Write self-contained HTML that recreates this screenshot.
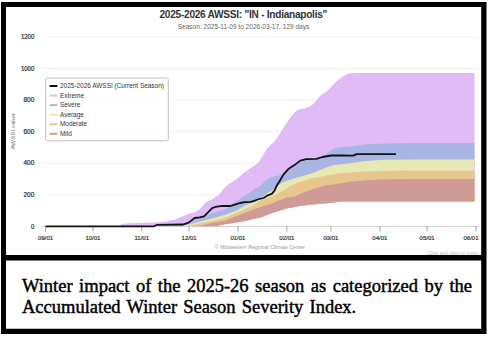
<!DOCTYPE html>
<html><head><meta charset="utf-8"><style>
html,body{margin:0;padding:0;background:#fff;}
body{width:489px;height:339px;position:relative;overflow:hidden;}
svg{position:absolute;left:0;top:0;}
.yl{font-family:"Liberation Sans",sans-serif;font-size:6.3px;fill:#333;stroke:#333;stroke-width:0.22px;}
.xl{font-family:"Liberation Sans",sans-serif;font-size:6.0px;fill:#333;stroke:#333;stroke-width:0.2px;}
.lg{font-family:"Liberation Sans",sans-serif;font-size:6.45px;fill:#333;}
.cap{position:absolute;left:22px;font-family:"Liberation Serif",serif;font-size:18.5px;color:#000;white-space:pre;line-height:21px;-webkit-text-stroke:0.45px #000;}
</style></head><body>
<svg width="489" height="339" viewBox="0 0 489 339">
<rect x="0" y="0" width="489" height="339" fill="#fff"/>
<line x1="41.5" y1="194.88" x2="478.5" y2="194.88" stroke="#ececec" stroke-width="0.8"/><line x1="41.5" y1="163.27" x2="478.5" y2="163.27" stroke="#ececec" stroke-width="0.8"/><line x1="41.5" y1="131.65" x2="478.5" y2="131.65" stroke="#ececec" stroke-width="0.8"/><line x1="41.5" y1="100.03" x2="478.5" y2="100.03" stroke="#ececec" stroke-width="0.8"/><line x1="41.5" y1="68.42" x2="478.5" y2="68.42" stroke="#ececec" stroke-width="0.8"/><line x1="41.5" y1="36.80" x2="478.5" y2="36.80" stroke="#ececec" stroke-width="0.8"/>
<polygon points="120,226.5 121,224.4 125,223.6 145,222.8 155,222.4 160,222 165,221.7 170,220.6 175,219.6 180,217.6 185,215.3 189,213.5 195,212.2 199.6,209.3 204.5,203.6 208,201.3 212,199.5 215.6,197 219,195 223,189.5 227,185.4 232.2,182 237.5,178.6 242.9,173.5 250,168.8 258.3,162.7 262,157 266.5,149.3 274.8,141 279,135 283,128.6 291.3,116.2 296.5,110.5 299.4,109.2 305.3,108.2 310,106.5 314.2,103.3 320.1,96 327.4,91 336.3,81.6 342.2,77 345,75.3 349,73.6 355.8,72.9 474.5,72.9 474.5,201.6 341,201.5 329.5,202.9 315.2,204.3 300.9,205.7 286.6,208.6 272.3,212.9 260.8,217.2 245,221 234.5,222.8 222.7,224.5 215,226.5 120,226.5" fill="#e0bbf6"/>
<polygon points="175,226.5 189.8,223.2 198.4,218.9 208.2,214.6 216.8,211.6 224.5,210 228,207.5 235,202 241.5,198 250,192.5 255,188.5 260,186.2 264.7,181.5 269.4,178 274.2,176.2 278.9,175.6 283.6,173.3 288.3,170.3 293,166.8 300,162 306,160 316,159.5 322,157.5 329.8,151 335.7,148.1 341,147.2 350,146.4 366.5,144.3 384.2,143.4 420,143 474.5,143 474.5,201.6 341,201.5 329.5,202.9 315.2,204.3 300.9,205.7 286.6,208.6 272.3,212.9 260.8,217.2 245,221 234.5,222.8 222.7,224.5 215,226.5 120,226.5" fill="#a9b5e5"/>
<polygon points="180,226.5 198.4,222 213.1,218.2 225.4,214.8 237.7,210 245,205.6 254,202 260,198.5 264.7,195 269.4,192 274.2,189 278.9,184.5 283.6,182.1 290,179.8 297.4,177.6 304.7,175.4 312.1,173.2 319.5,170.2 326.9,167.3 334.2,165.1 340,164.5 366.5,161.1 384,159.8 420,159.5 474.5,159.5 474.5,201.6 341,201.5 329.5,202.9 315.2,204.3 300.9,205.7 286.6,208.6 272.3,212.9 260.8,217.2 245,221 234.5,222.8 222.7,224.5 215,226.5 120,226.5" fill="#e6e9b3"/>
<polygon points="185,226.5 198.4,223.8 213.1,220.8 225.4,217.8 235,213.5 245,209.2 254,205 260,200.8 264.7,198.8 274.2,195.6 283.6,190.5 290,186 297.4,183 304.7,180.6 312.1,178.3 319.5,176.9 326.9,175.4 334.2,173.9 340,173.2 366,171.5 400,170.6 474.5,170.8 474.5,201.6 341,201.5 329.5,202.9 315.2,204.3 300.9,205.7 286.6,208.6 272.3,212.9 260.8,217.2 245,221 234.5,222.8 222.7,224.5 215,226.5 120,226.5" fill="#e7c78e"/>
<polygon points="196,226.5 213,222.8 225,220.8 235,216.5 245,212.7 258,208 273,203.1 286.6,197.5 295,196.5 300.9,193.5 315,188.5 324,185.7 334.2,184.2 340,183.5 350,181.7 366,180.3 384,179.2 474.5,179.1 474.5,201.6 341,201.5 329.5,202.9 315.2,204.3 300.9,205.7 286.6,208.6 272.3,212.9 260.8,217.2 245,221 234.5,222.8 222.7,224.5 215,226.5 120,226.5" fill="#d09a97"/>
<line x1="41.5" y1="226.6" x2="478.5" y2="226.6" stroke="#cccccc" stroke-width="1"/>
<line x1="45.60" y1="226.5" x2="45.60" y2="231.5" stroke="#8a8a8a" stroke-width="0.8"/><text x="45.60" y="240" text-anchor="middle" class="xl">09/01</text><line x1="92.90" y1="226.5" x2="92.90" y2="231.5" stroke="#8a8a8a" stroke-width="0.8"/><text x="92.90" y="240" text-anchor="middle" class="xl">10/01</text><line x1="141.77" y1="226.5" x2="141.77" y2="231.5" stroke="#8a8a8a" stroke-width="0.8"/><text x="141.77" y="240" text-anchor="middle" class="xl">11/01</text><line x1="189.07" y1="226.5" x2="189.07" y2="231.5" stroke="#8a8a8a" stroke-width="0.8"/><text x="189.07" y="240" text-anchor="middle" class="xl">12/01</text><line x1="237.94" y1="226.5" x2="237.94" y2="231.5" stroke="#8a8a8a" stroke-width="0.8"/><text x="237.94" y="240" text-anchor="middle" class="xl">01/01</text><line x1="286.81" y1="226.5" x2="286.81" y2="231.5" stroke="#8a8a8a" stroke-width="0.8"/><text x="286.81" y="240" text-anchor="middle" class="xl">02/01</text><line x1="330.96" y1="226.5" x2="330.96" y2="231.5" stroke="#8a8a8a" stroke-width="0.8"/><text x="330.96" y="240" text-anchor="middle" class="xl">03/01</text><line x1="379.83" y1="226.5" x2="379.83" y2="231.5" stroke="#8a8a8a" stroke-width="0.8"/><text x="379.83" y="240" text-anchor="middle" class="xl">04/01</text><line x1="427.13" y1="226.5" x2="427.13" y2="231.5" stroke="#8a8a8a" stroke-width="0.8"/><text x="427.13" y="240" text-anchor="middle" class="xl">05/01</text><line x1="476.00" y1="226.5" x2="476.00" y2="231.5" stroke="#8a8a8a" stroke-width="0.8"/><text x="478.5" y="240" text-anchor="end" class="xl">06/01</text>
<polyline points="45.6,226.3 154,226.3 157,224.8 183,224.5 185,223.8 188.6,222.6 194.7,218 199.6,217.3 204,216.3 208.2,212.2 212.5,207.8 216.8,206.7 222.9,205.8 230.3,206 234,204.8 240,203 244.6,202.2 250.6,201.9 254.2,200.8 257.7,199.5 263.5,198 268.3,195.1 271.8,193.9 274.7,190.4 276.5,186.2 280.1,180.3 283.6,174.4 288.3,169.1 294.4,165.1 300.3,160.6 306.2,159.2 316.5,158.9 322.4,157 331.3,155.5 340,155.5 353.3,155.6 356.6,154.2 396,154.2" fill="none" stroke="#111" stroke-width="1.8" stroke-linejoin="round"/>
<text x="34.3" y="228.70" text-anchor="end" class="yl" textLength="3.4" lengthAdjust="spacingAndGlyphs">0</text><text x="34.3" y="197.08" text-anchor="end" class="yl" textLength="10.8" lengthAdjust="spacingAndGlyphs">200</text><text x="34.3" y="165.47" text-anchor="end" class="yl" textLength="10.8" lengthAdjust="spacingAndGlyphs">400</text><text x="34.3" y="133.85" text-anchor="end" class="yl" textLength="10.8" lengthAdjust="spacingAndGlyphs">600</text><text x="34.3" y="102.23" text-anchor="end" class="yl" textLength="10.8" lengthAdjust="spacingAndGlyphs">800</text><text x="34.3" y="70.62" text-anchor="end" class="yl" textLength="13.4" lengthAdjust="spacingAndGlyphs">1000</text><text x="34.3" y="39.00" text-anchor="end" class="yl" textLength="13.4" lengthAdjust="spacingAndGlyphs">1200</text>
<text x="243.3" y="17.7" text-anchor="middle" font-family="Liberation Sans" font-weight="bold" font-size="10.1" letter-spacing="-0.26" fill="#333">2025-2026 AWSSI: "IN - Indianapolis"</text>
<text x="243.5" y="28.5" text-anchor="middle" font-family="Liberation Sans" font-size="6.55" fill="#666">Season: 2025-11-09 to 2026-03-17, 129 days</text>
<text transform="translate(15.2,131.5) rotate(-90)" text-anchor="middle" font-family="Liberation Sans" font-size="6.2" fill="#666">AWSSI value</text>
<rect x="45.6" y="78" width="122.7" height="62.8" rx="1.8" fill="rgba(255,255,255,0.7)" stroke="#bbb" stroke-width="0.9"/><line x1="49.5" y1="86.00" x2="57.3" y2="86.00" stroke="#111" stroke-width="2"/><text x="60" y="88.20" class="lg">2025-2026 AWSSI (Current Season)</text><line x1="49.5" y1="95.56" x2="57.3" y2="95.56" stroke="#e0bbf6" stroke-width="2"/><text x="60" y="97.76" class="lg">Extreme</text><line x1="49.5" y1="105.12" x2="57.3" y2="105.12" stroke="#a9b5e5" stroke-width="2"/><text x="60" y="107.32" class="lg">Severe</text><line x1="49.5" y1="114.68" x2="57.3" y2="114.68" stroke="#e6e9b3" stroke-width="2"/><text x="60" y="116.88" class="lg">Average</text><line x1="49.5" y1="124.24" x2="57.3" y2="124.24" stroke="#e7c78e" stroke-width="2"/><text x="60" y="126.44" class="lg">Moderate</text><line x1="49.5" y1="133.80" x2="57.3" y2="133.80" stroke="#d09a97" stroke-width="2"/><text x="60" y="136.00" class="lg">Mild</text>
<text x="305" y="249" text-anchor="end" font-family="Liberation Sans" font-size="5.22" fill="#999">© Midwestern Regional Climate Center</text>
<text x="478.6" y="254.5" text-anchor="end" font-family="Liberation Sans" font-size="5.0" fill="#bbb">Click and drag to zoom</text>
<path d="M1,2 H486.5 V334 H1 Z M6,7 V255 H481.2 V7 Z M6,260.4 V328.8 H481.2 V260.4 Z" fill="#000" fill-rule="evenodd"/>
</svg>
<div class="cap" style="top:276px;word-spacing:1.85px;">Winter impact of the 2025-26 season as categorized by the</div>
<div class="cap" style="top:297px;word-spacing:1.5px;">Accumulated Winter Season Severity Index.</div>
</body></html>
